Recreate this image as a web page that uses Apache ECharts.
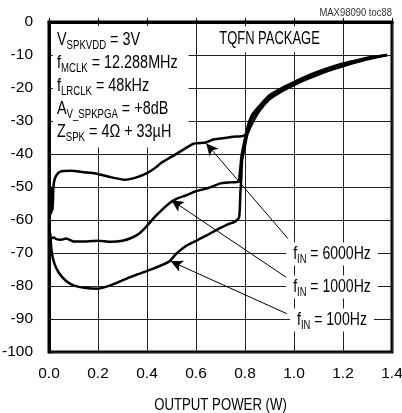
<!DOCTYPE html>
<html><head><meta charset="utf-8">
<script src="https://cdn.jsdelivr.net/npm/echarts@6/dist/echarts.min.js"></script>
<style>html,body{margin:0;padding:0;background:#fff}#c{width:402px;height:413px}</style>
</head><body><div id="c"></div>
<script>
// ---- data ----
var xTicks = [0.0, 0.2, 0.4, 0.6, 0.8, 1.0, 1.2, 1.4];
var yTicks = [0, -10, -20, -30, -40, -50, -60, -70, -80, -90, -100];
var thdn6000 = [[0.004,-52],[0.006,-58],[0.008,-50],[0.010,-58],[0.012,-51],[0.015,-57],[0.018,-50],[0.022,-48],[0.03,-46.5],[0.044,-45.4],[0.09,-45.1],[0.14,-45.5],[0.19,-45.9],[0.25,-47],[0.31,-47.8],[0.36,-47],[0.4,-45.8],[0.43,-44.4],[0.46,-42.6],[0.51,-40.4],[0.55,-38.6],[0.59,-36.9],[0.64,-36.5],[0.67,-35.6],[0.7,-35.3],[0.75,-34.8],[0.8,-34.3],[0.815,-30.6],[0.83,-28],[0.86,-25.3],[0.9,-22.2],[0.95,-20],[1.0,-18.2],[1.05,-16.5],[1.1,-15],[1.15,-13.7],[1.2,-12.6],[1.25,-11.7],[1.3,-10.8],[1.38,-10]];
var thdn1000 = [[0.005,-66],[0.01,-65.5],[0.02,-65.3],[0.03,-65.8],[0.05,-66],[0.07,-65.6],[0.1,-66.5],[0.15,-66.5],[0.2,-66.3],[0.25,-66.6],[0.3,-66.3],[0.34,-65.3],[0.37,-64],[0.4,-61.8],[0.43,-59.2],[0.46,-57],[0.49,-55],[0.52,-53.6],[0.56,-52.5],[0.6,-51.3],[0.65,-50.3],[0.7,-48.9],[0.74,-48.6],[0.772,-48.4],[0.78,-45],[0.785,-41],[0.795,-37],[0.81,-32.5],[0.83,-29],[0.86,-25.8],[0.9,-22.8],[0.95,-20.5],[1.0,-18.6],[1.05,-16.9],[1.1,-15.4],[1.15,-14.1],[1.2,-12.9],[1.25,-11.9],[1.3,-11],[1.38,-10]];
var thdn100 = [[0.005,-64],[0.01,-69],[0.02,-72.8],[0.04,-76],[0.07,-78.5],[0.1,-79.8],[0.15,-80.6],[0.2,-80.8],[0.25,-79.8],[0.3,-78.3],[0.35,-76.8],[0.42,-74.9],[0.49,-72.6],[0.52,-70.2],[0.56,-67.8],[0.6,-66.3],[0.65,-64.4],[0.7,-62.4],[0.73,-61.3],[0.76,-60.5],[0.776,-59.2],[0.781,-52],[0.785,-47],[0.788,-42],[0.8,-37.5],[0.81,-34],[0.83,-30.6],[0.86,-26.8],[0.9,-23.4],[0.95,-21],[1.0,-19.1],[1.05,-17.4],[1.1,-15.9],[1.15,-14.6],[1.2,-13.4],[1.25,-12.3],[1.3,-11.3],[1.38,-10]];
var seriesNames = ['6000Hz', '1000Hz', '100Hz'];
var seriesData = [thdn6000, thdn1000, thdn100];
var labelTexts = ['6000Hz', '1000Hz', '100Hz'];
var labelAnchors = [[1.155,-70],[1.155,-80],[1.155,-90]];
var arrowFrom = [[0.975,-65.6],[0.971,-77.5],[0.971,-88.4]];
var arrowTo = [[0.642,-36.8],[0.5,-54],[0.497,-72.5]];
var conditions = [['V','SPKVDD',' = 3V'],['f','MCLK',' = 12.288MHz'],['f','LRCLK',' = 48kHz'],['A','V_SPKPGA',' = +8dB'],['Z','SPK',' = 4\u03a9 + 33\u00b5H']];
var packageText = 'TQFN PACKAGE';
var xAxisTitle = 'OUTPUT POWER (W)';
var figureId = 'MAX98090 toc88';

var FF = "'Liberation Sans',Arial,sans-serif";
var rich = {
  n: {fontSize: 18, fontFamily: FF, fill: '#000', color: '#000', lineHeight: 23},
  s: {fontSize: 12, fontFamily: FF, fill: '#000', color: '#000', lineHeight: 12, padding: [11,0,0,0]}
};
var condText = conditions.map(function(c){return '{n|'+c[0]+'}{s|'+c[1]+'}{n|'+c[2]+'}';}).join('\n');

var chart = echarts.init(document.getElementById('c'));
var series = seriesData.map(function(d, i){
  var s = {
    name: seriesNames[i], type: 'line', data: d, showSymbol: false, symbol: 'none',
    smooth: 0.2, lineStyle: {color: '#000', width: 2.5}, z: 3,
    markLine: {
      silent: true, symbol: ['none','arrow'], symbolSize: [9, 12],
      lineStyle: {color: '#000', width: 1, type: 'solid'}, label: {show: false},
      data: [[{coord: arrowFrom[i]}, {coord: arrowTo[i]}]]
    }
  };
  if (i === 0) {
    s.markArea = {silent: true, itemStyle: {color: '#fff', opacity: 1}, label: {show: false},
      data: [[{xAxis: 0.015, yAxis: -1.2}, {xAxis: 0.57, yAxis: -38}]]};
  }
  return s;
});

chart.setOption({
  animation: false,
  backgroundColor: '#fff',
  grid: {left: 49, right: 10, top: 22, bottom: 61, show: true, borderColor: '#000', borderWidth: 3,
    containLabel: false, outerBoundsMode: 'none'},
  xAxis: {type: 'value', min: 0, max: 1.4, interval: 0.2,
    axisLine: {show: true, lineStyle: {color: '#000', width: 3}},
    axisTick: {show: true, inside: true, length: 4, lineStyle: {color: '#000'}},
    axisLabel: {fontSize: 15.5, fontFamily: FF, color: '#000', margin: 14, formatter: function(v){return v.toFixed(1);}},
    splitLine: {show: true, lineStyle: {color: '#222', width: 1}}},
  yAxis: {type: 'value', min: -100, max: 0, interval: 10,
    axisLine: {show: true, lineStyle: {color: '#000', width: 3}},
    axisTick: {show: true, inside: true, length: 4, lineStyle: {color: '#000'}},
    axisLabel: {fontSize: 15.5, fontFamily: FF, color: '#000', margin: 16},
    splitLine: {show: true, lineStyle: {color: '#222', width: 1}}},
  series: series
});

// annotations positioned through the chart's own scales
var g = [];
var gridTL = chart.convertToPixel({gridIndex: 0}, [0, 0]);
var gridBR = chart.convertToPixel({gridIndex: 0}, [1.4, -100]);
g.push({type: 'text', x: gridTL[0] + 8, y: gridTL[1] + 6.5, scaleX: 0.8, z: 100,
  style: {text: condText, rich: rich, textAlign: 'left', textVerticalAlign: 'top'}});
var pk = chart.convertToPixel({gridIndex: 0}, [0.9, -5.2]);
g.push({type: 'text', x: pk[0], y: pk[1], scaleX: 0.72, z: 100,
  style: {text: packageText, fontSize: 18, fontFamily: FF, fill: '#000', textAlign: 'center', textVerticalAlign: 'middle',
    backgroundColor: '#fff', padding: [4, 6, 4, 6]}});
g.push({type: 'text', x: gridBR[0], y: 13, scaleX: 0.86, z: 100,
  style: {text: figureId, fontSize: 11, fontFamily: FF, fill: '#333', textAlign: 'right', textVerticalAlign: 'middle'}});
g.push({type: 'text', x: (gridTL[0] + gridBR[0]) / 2, y: gridBR[1] + 53.5, scaleX: 0.8, z: 100,
  style: {text: xAxisTitle, fontSize: 16.5, fontFamily: FF, fill: '#000', textAlign: 'center', textVerticalAlign: 'middle'}});
labelAnchors.forEach(function(p, i){
  var px = chart.convertToPixel({gridIndex: 0}, p);
  g.push({type: 'text', x: px[0], y: px[1] + 1, scaleX: 0.78, z: 100,
    style: {text: '{n|f}{s|IN}{n| = ' + labelTexts[i] + '}', rich: rich, textAlign: 'center', textVerticalAlign: 'middle',
      backgroundColor: '#fff', padding: [0, 9, 0, 9]}});
});
chart.setOption({graphic: g});
</script></body></html>
